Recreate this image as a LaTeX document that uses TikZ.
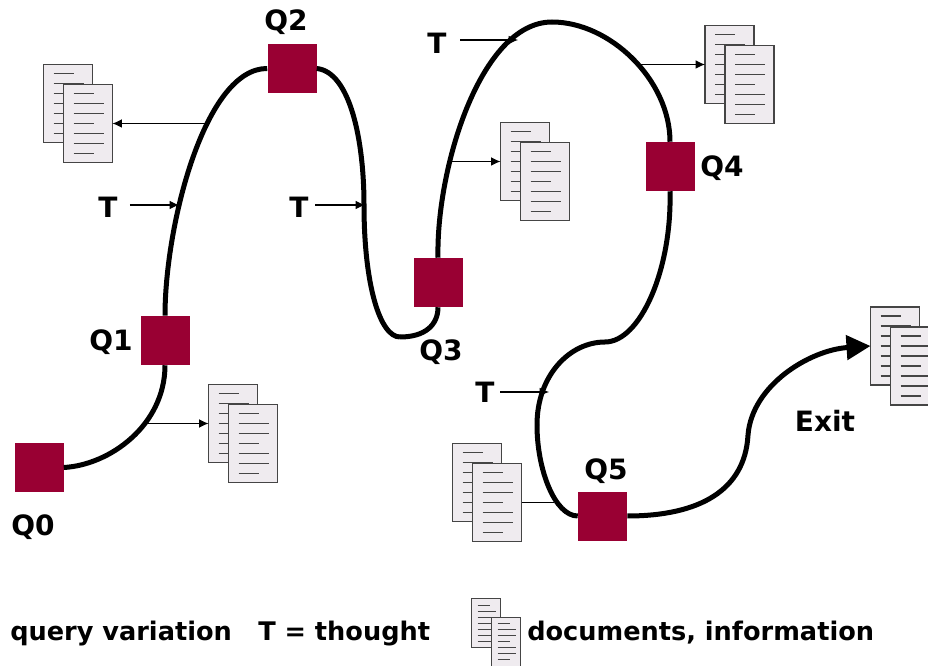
\documentclass[tikz,border=0pt]{standalone}
\usepackage{fontspec}
\setmainfont{DejaVu Sans}
\usetikzlibrary{arrows.meta}
\definecolor{querycolor}{HTML}{990033}
\definecolor{sheetcolor}{HTML}{EFEBEF}
\definecolor{sheetline}{HTML}{454545}
\tikzset{
    query/.style={fill=querycolor,minimum size=36.75pt,inner sep=0pt},
    label/.style={font=\fontsize{21}{25}\selectfont\bfseries,inner sep=0pt},
    legend/.style={font=\fontsize{19.2}{23}\selectfont\bfseries,inner sep=0pt,anchor=base west},
    path/.style={line width=3.75pt},
    pointer/.style={line width=0.8pt,-{Latex[length=7pt,width=6.5pt]}},
    sheet/.style={fill=sheetcolor,draw=sheetline,line width=0.9pt},
    rule/.style={draw=sheetline,line width=1pt},
    pics/docs/.style={code={
        \draw[sheet] (0,0) rectangle (49,78);
        \draw[rule] (10,9) -- (30,9) (10,19) -- (40,19) (10,29) -- (40,29) (10,39) -- (40,39) (10,49) -- (40,49) (10,59) -- (40,59) (10,69) -- (40,69);
        \draw[sheet] (20,20) rectangle (69,98);
        \draw[rule] (30,29) -- (50,29) (30,39) -- (60,39) (30,49) -- (60,49) (30,59) -- (50,59) (30,69) -- (60,69) (30,79) -- (60,79) (30,89) -- (50,89);
        \coordinate (-backwest) at (0,39);
        \coordinate (-fronteast) at (69,59);
    }},
    pics/docssmall/.style={code={
        \draw[sheet] (0,0) rectangle (29,49);
        \draw[rule] (6,7) -- (18,7) (6,13) -- (24,13) (6,19) -- (24,19) (6,25) -- (24,25) (6,31) -- (24,31) (6,37) -- (24,37) (6,43) -- (24,43);
        \draw[sheet] (20,19) rectangle (49,70);
        \draw[rule] (26,25) -- (38,25) (26,31) -- (44,31) (26,37) -- (44,37) (26,43) -- (38,43) (26,49) -- (44,49) (26,55) -- (44,55) (26,61) -- (38,61);
    }}
}
\begin{document}
\begin{tikzpicture}[x=0.75pt,y=-0.75pt]
    \clip (0,0) rectangle (928,666);

    \pic (docsa) at (43.5,64.5) {docs};
    \pic (docsb) at (208.5,384.5) {docs};
    \pic (docsc) at (500.5,122.5) {docs};
    \pic (docsd) at (705,25.5) {docs};
    \pic (docse) at (452.5,443.5) {docs};
    \pic (docsf) at (870.5,307) {docs};
    \pic (docsg) at (471.5,598.5) {docssmall};

    \coordinate (bendA) at (400,337);
    \coordinate (topA) at (552,22);
    \coordinate (bendB) at (605,342);
    \coordinate (bendC) at (537,425);
    \coordinate (bendD) at (748,435);
    \coordinate (tipA) at (207,123.5);
    \coordinate (tipB) at (145,423.5);
    \coordinate (tipC) at (452,161.5);
    \coordinate (tipD) at (640,64.5);
    \coordinate (tipE) at (554,502.5);
    \coordinate (inA) at (179,205);
    \coordinate (inB) at (365,205);
    \coordinate (inC) at (518,40);
    \coordinate (inD) at (549,392);

    \node[query] (q0) at (39,467.5) {};
    \node[query] (q1) at (165,340.5) {};
    \node[query] (q2) at (292,68.5) {};
    \node[query] (q3) at (438,282.5) {};
    \node[query] (q4) at (670,166.5) {};
    \node[query] (q5) at (602.5,516) {};

    \draw[path] (q0.east) .. controls (110,465) and (165,425) .. (q1.south);
    \draw[path] (q1.north) .. controls (165,225) and (205,68) .. (q2.west);
    \draw[path] (q2.east) .. controls (350,72) and (364,140) .. (364,205) .. controls (364,285) and (380,337) .. (bendA);
    \draw[path] (bendA) .. controls (425,337) and (438,325) .. (q3.south);
    \draw[path] (q3.north) .. controls (436,170) and (480,22) .. (topA);
    \draw[path] (topA) .. controls (610,22) and (670,80) .. (q4.north);
    \draw[path] (q4.south) .. controls (672,270) and (640,342) .. (bendB);
    \draw[path] (bendB) .. controls (570,342) and (537,375) .. (bendC);
    \draw[path] (bendC) .. controls (537,470) and (555,516) .. (q5.west);
    \draw[path] (q5.east) .. controls (700,516) and (745,490) .. (bendD);
    \draw[path,-{Triangle[length=18pt,width=18pt]}] (bendD) .. controls (752,385) and (810,350) .. (docsf-backwest);

    \node[label] (q0label) at (33,527) {Q0};
    \node[label] (q1label) at (111,342) {Q1};
    \node[label] (q2label) at (286,22) {Q2};
    \node[label] (q3label) at (441,352) {Q3};
    \node[label] (q4label) at (722,168) {Q4};
    \node[label] (q5label) at (606,471) {Q5};
    \node[label] (exitlabel) at (825,421) {Exit};

    \node[label] (ta) at (108,207) {T};
    \node[label] (tb) at (299,207) {T};
    \node[label] (tc) at (437,43) {T};
    \node[label] (td) at (485,392) {T};

    \draw[pointer,shorten <=9pt] (ta.east |- inA) -- (inA);
    \draw[pointer,shorten <=5pt] (tb.east |- inB) -- (inB);
    \draw[pointer,shorten <=10pt] (tc.east |- inC) -- (inC);
    \draw[pointer,shorten <=4pt] (td.east |- inD) -- (inD);

    \draw[pointer] (tipA) -- (docsa-fronteast);
    \draw[pointer] (tipB) -- (docsb-backwest);
    \draw[pointer] (tipC) -- (docsc-backwest);
    \draw[pointer] (tipD) -- (docsd-backwest);
    \draw[line width=0.8pt] (docse-fronteast) -- (tipE);

    \node[legend] (legenda) at (10,640) {query variation};
    \node[legend] (legendb) at (258,640) {T = thought};
    \node[legend] (legendc) at (527,640) {documents, information};
\end{tikzpicture}
\end{document}
